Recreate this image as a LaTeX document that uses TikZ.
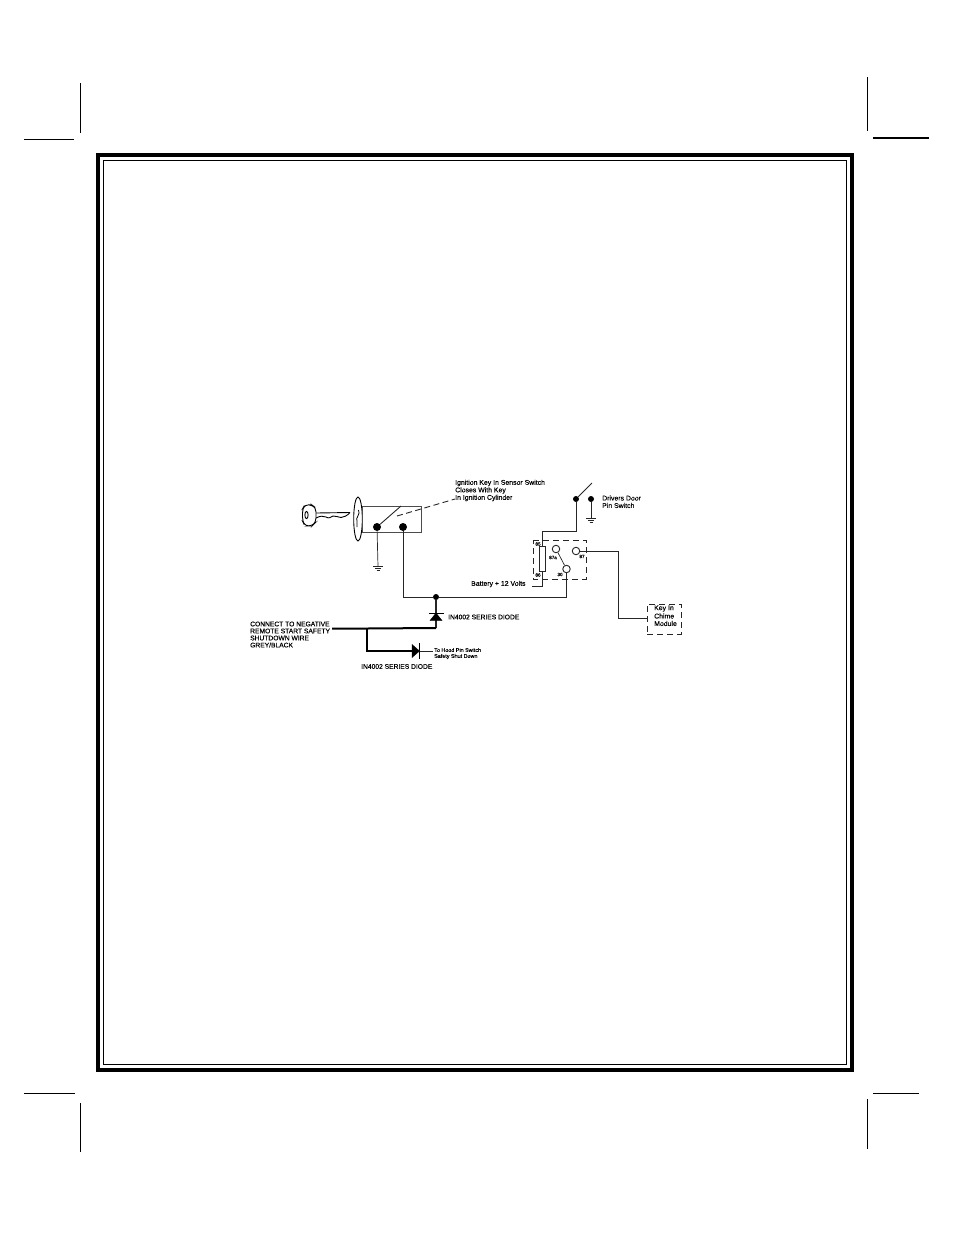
\documentclass[tikz,border=0pt]{standalone}
\usepackage{fontspec}
\setmainfont{Liberation Sans}[FakeBold=0.25]
\begin{document}
\begin{tikzpicture}[x=1pt,y=-1pt,
  wire/.style={line width=0.9pt,draw=black!85},
  thinwire/.style={line width=0.7pt,draw=black!85},
  heavywire/.style={line width=2pt,draw=black},
  crop/.style={line width=1pt,draw=black},
  dashbox/.style={line width=0.9pt,draw=black!85,dash pattern=on 6pt off 4pt},
  dotn/.style={circle,fill=black,inner sep=0pt,minimum size=#1},
  contact/.style={circle,draw=black!85,fill=white,line width=0.9pt,inner sep=0pt,minimum size=7.5pt},
  lab/.style={anchor=west,inner sep=0pt,font=\fontsize{6.9}{7}\selectfont},
  caps/.style={anchor=west,inner sep=0pt,font=\fontsize{6.7}{7}\selectfont},
  tiny/.style={anchor=west,inner sep=0pt,font=\fontsize{5.4}{6}\selectfont},
  pinlab/.style={inner sep=0pt,font=\fontsize{4.6}{5}\selectfont},
  diodefill/.style={fill=black,draw=black,line width=0.4pt}]
\useasboundingbox (0,0) rectangle (954,1235);
% page frame
\draw[line width=4pt] (98,155) rectangle (852,1070);
\draw[line width=0.8pt] (103.5,160.5) rectangle (846.5,1064.5);
% crop marks
\draw[crop] (80,83) -- (80,133);
\draw[crop] (24,139.5) -- (74,139.5);
\draw[line width=1.3pt] (867.5,77) -- (867.5,131);
\draw[line width=1.5pt] (873,138) -- (929,138);
\draw[crop] (24,1093) -- (75,1093);
\draw[crop] (80,1103) -- (80,1152);
\draw[crop] (873,1093) -- (919,1093);
\draw[crop] (867.5,1099) -- (867.5,1149);
% key
\draw[line width=0.9pt,rounded corners=4pt] (316,508) -- (312,505) -- (305,504.5) -- (302.5,509) -- (302.5,521) -- (305,526) -- (312,526) -- (316,522) -- cycle;
\draw[line width=0.9pt] (306.5,515) ellipse (1.6 and 3.6);
\draw[line width=0.9pt] (316,513) -- (350,512.5);
\draw[line width=0.9pt] (316,518) .. controls (320,516) and (323,515.5) .. (326,517) .. controls (329,519) and (331,517) .. (333,516) .. controls (336,515) and (338,518) .. (341,517.5) .. controls (344,517) and (347,516) .. (350,512.5);
% lock cylinder
\draw[line width=0.9pt] (358,519) ellipse (4.3 and 22);
\draw[line width=0.8pt] (358.5,510) .. controls (361,514) and (355,518) .. (357,521) .. controls (358,523) and (356,525) .. (357,527);
% switch box
\node[draw=black!70,line width=0.9pt,inner sep=0pt,minimum width=59pt,minimum height=26pt] (swbox) at (391.5,519) {};
\node[dotn=8pt] (sa) at (377,527) {};
\node[dotn=8pt] (sb) at (403,527) {};
\coordinate (armtip) at (401,506);
\draw[wire] (sa) -- (armtip);
\coordinate (dstart) at (397,516);
\coordinate (dend) at (455,499);
\draw[wire,dash pattern=on 6pt off 3.5pt] (dstart) -- (dend);
% ground under switch
\coordinate (g1) at (378,566.5);
\draw[thinwire] (sa) -- (g1);
\draw[thinwire] (373,566.5) -- (383,566.5) (375,568.5) -- (381,568.5) (376.5,570.5) -- (379.5,570.5);
% main bus
\coordinate (busl) at (403,597);
\coordinate (busr) at (566.5,597);
\node[dotn=6pt] (junc) at (436,597) {};
\node[contact] (c30) at (566.5,569) {};
\draw[wire] (sb) -- (busl) -- (junc) -- (busr) -- (c30);
% vertical diode
\coordinate (d1bot) at (436,628);
\draw[wire,line width=1.4pt] (junc) -- (d1bot);
\draw[diodefill] (429,613) -- (443,613) -- (443,613.5) -- (429,613.5) -- cycle;
\draw[diodefill] (436,613) -- (442,620.5) -- (430,620.5) -- cycle;
% heavy wires
\coordinate (hl) at (332,628.5);
\coordinate (hb) at (367,628.5);
\coordinate (hc) at (367,651);
\coordinate (hd) at (413,651);
\draw[heavywire] (hl) -- (hb) -- (d1bot);
\draw[heavywire] (hb) -- (hc) -- (hd);
% horizontal diode
\draw[diodefill] (412,644.5) -- (419.5,651) -- (412,657.5) -- cycle;
\draw[line width=1.1pt] (419.5,643) -- (419.5,659);
\coordinate (he) at (433,651);
\draw[thinwire] (419.5,651) -- (he);
% door pin switch
\node[dotn=6pt] (da) at (576,499) {};
\node[dotn=6pt] (db) at (591,499) {};
\coordinate (darm) at (592,483);
\draw[wire] (da) -- (darm);
\coordinate (g2) at (591,518);
\draw[wire] (db) -- (g2);
\draw[thinwire] (586,518) -- (596,518) (588,520) -- (594,520) (589.5,522) -- (592.5,522);
% relay
\draw[dashbox] (533,540) -- (586,540) -- (586,579) -- (533,579) -- cycle;
\node[draw=black!85,fill=white,line width=0.8pt,inner sep=0pt,minimum width=6pt,minimum height=25pt] (coil) at (542,558.5) {};
\coordinate (w1) at (542,531);
\coordinate (w2) at (576,531);
\draw[wire] (coil.north) -- (w1) -- (w2) -- (da);
\coordinate (w3) at (542,586);
\coordinate (w4) at (532,586);
\draw[wire] (coil.south) -- (w3) -- (w4);
\node[contact] (c87a) at (556,549) {};
\node[contact] (c87) at (576,551) {};
\draw[thinwire] (c87a) -- (c30);
\coordinate (w5) at (618.5,551);
\coordinate (w6) at (618.5,618);
\coordinate (w7) at (647,618);
\draw[wire] (c87) -- (w5) -- (w6) -- (w7);
\node[dashbox,inner sep=0pt,minimum width=34pt,minimum height=30pt] (mod) at (664,619) {};
% pin labels
\node[pinlab] (p85) at (538,544) {85};
\node[pinlab] (p86) at (538,575) {86};
\node[pinlab] (p87a) at (553,557.5) {87a};
\node[pinlab] (p30) at (560,574.5) {30};
\node[pinlab] (p87) at (582,556.5) {87};
% labels
\node[lab] (t1) at (455,483) {Ignition Key In Sensor Switch};
\node[lab] (t2) at (455,490.5) {Closes With Key};
\node[lab] (t3) at (455,498) {In Ignition Cylinder};
\node[lab] (t4) at (602,498) {Drivers Door};
\node[lab] (t5) at (602,505.5) {Pin Switch};
\node[lab] (t6) at (471,584) {Battery + 12 Volts};
\node[lab] (t7) at (654,608.5) {Key In};
\node[lab] (t8) at (654,616) {Chime};
\node[lab] (t9) at (654,623.5) {Module};
\node[caps] (t10) at (448,617) {IN4002 SERIES DIODE};
\node[caps] (t11) at (361,666.5) {IN4002 SERIES DIODE};
\node[caps] (t12) at (250,624) {CONNECT TO NEGATIVE};
\node[caps] (t13) at (250,631) {REMOTE START SAFETY};
\node[caps] (t14) at (250,638) {SHUTDOWN WIRE};
\node[caps] (t15) at (250,645) {GREY/BLACK};
\node[tiny] (t16) at (434,650) {To Hood Pin Switch};
\node[tiny] (t17) at (434,656.5) {Safety Shut Down};
\end{tikzpicture}
\end{document}
